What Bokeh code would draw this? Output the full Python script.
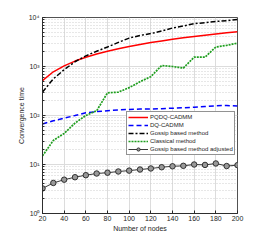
from bokeh.plotting import figure
from bokeh.models import CustomJSTickFormatter, FixedTicker, Legend
from bokeh.embed import file_html
from bokeh.resources import INLINE

nodes = [20, 30, 40, 50, 60, 70, 80, 90, 100, 110, 120, 130, 140, 150, 160, 170, 180, 190, 200]
pqdq_cadmm = [515, 780, 1030, 1290, 1540, 1800, 2050, 2310, 2560, 2820, 3080, 3330, 3590, 3850, 4100, 4360, 4620, 4870, 5130]
dq_cadmm = [67, 78, 88, 100, 114, 120, 125, 130, 133, 135, 136, 138, 141, 144, 148, 153, 158, 160, 156]
gossip = [300, 560, 860, 1250, 1650, 2050, 2500, 3100, 3800, 4300, 4700, 5300, 6100, 6700, 7500, 7800, 8300, 8600, 9100]
classical = [15, 31, 43, 70, 100, 125, 290, 300, 370, 490, 620, 1050, 1000, 930, 1550, 1550, 2500, 2700, 3000]
gossip_adjusted = [3.25, 4.2, 4.9, 5.5, 6.05, 6.55, 6.8, 7.2, 7.5, 7.9, 8.3, 8.8, 9.2, 9.4, 10.0, 9.8, 10.5, 9.3, 9.7]
x_ticks = [20, 40, 60, 80, 100, 120, 140, 160, 180, 200]
y_ticks = [1, 10, 100, 1000, 10000]

FONT = "Liberation Sans"
AX = "#262626"

p = figure(width=262, height=234, x_range=(20, 200), y_range=(1, 10000),
           y_axis_type="log", output_backend="svg", toolbar_location=None,
           min_border_left=42, min_border_right=25, min_border_top=17, min_border_bottom=21)
p.background_fill_color = "white"
p.border_fill_color = "white"
p.outline_line_color = AX
p.outline_line_width = 0.8

p.xaxis.ticker = FixedTicker(ticks=x_ticks)
p.yaxis.ticker = FixedTicker(ticks=y_ticks, minor_ticks=[m * d for d in [1, 10, 100, 1000] for m in range(2, 10)])
p.yaxis.formatter = CustomJSTickFormatter(code="""
const sup = {"0":"\u2070","1":"\u00b9","2":"\u00b2","3":"\u00b3","4":"\u2074","-":"\u207b"};
const e = Math.round(Math.log10(tick));
return "10" + String(e).split("").map(c => sup[c]).join("");
""")

for ax in (p.xaxis[0], p.yaxis[0]):
    ax.axis_line_color = AX
    ax.axis_line_width = 0.8
    ax.major_tick_out = 0
    ax.major_tick_in = 3
    ax.minor_tick_out = 0
    ax.minor_tick_in = 2
    ax.major_tick_line_color = AX
    ax.minor_tick_line_color = AX
    ax.major_label_text_font = FONT
    ax.major_label_text_font_size = "7px"
    ax.major_label_text_color = AX
    ax.axis_label_text_font = FONT
    ax.axis_label_text_font_size = "7px"
    ax.axis_label_text_font_style = "normal"
    ax.axis_label_text_color = AX
    ax.major_label_standoff = 3
    ax.axis_label_standoff = 1
p.xaxis.minor_tick_line_color = None
p.xaxis.major_label_standoff = 2
p.xaxis.axis_label = "Number of nodes"
p.yaxis.axis_label = "Convergence time"

p.xgrid.grid_line_color = "#dcdcdc"
p.ygrid.grid_line_color = "#dcdcdc"
p.ygrid.minor_grid_line_color = "#cfcfcf"
p.ygrid.minor_grid_line_dash = "1 2"

r1 = p.line(nodes, pqdq_cadmm, line_color="#ff0000", line_width=1.5)
r2 = p.line(nodes, dq_cadmm, line_color="#0000ff", line_width=1.5, line_dash="5 3")
r3 = p.line(nodes, gossip, line_color="black", line_width=1.5, line_dash="5 2 2 2")
r4 = p.line(nodes, classical, line_color="#1e9e1e", line_width=1.7, line_dash="2 1")
r5 = p.line(nodes, gossip_adjusted, line_color="#222222", line_width=0.9)
r6 = p.scatter(nodes, gossip_adjusted, size=5.5, marker="circle", line_color="#222222",
               fill_color="#999999", line_width=0.9)

legend = Legend(items=[("PQDQ-CADMM", [r1]), ("DQ-CADMM", [r2]),
                       ("Gossip based method", [r3]), ("Classical method", [r4]),
                       ("Gossip based method adjusted", [r5, r6])],
                location=(84, 58))
legend.label_text_font = FONT
legend.label_text_font_size = "6px"
legend.label_text_color = AX
legend.label_height = 8
legend.glyph_height = 8
legend.glyph_width = 20
legend.label_standoff = 2
legend.spacing = 0
legend.padding = 1
legend.margin = 0
legend.border_line_color = AX
legend.border_line_width = 0.8
legend.background_fill_color = "white"
legend.background_fill_alpha = 1
p.add_layout(legend, "center")

open("out.html", "w").write(file_html(p, INLINE))
